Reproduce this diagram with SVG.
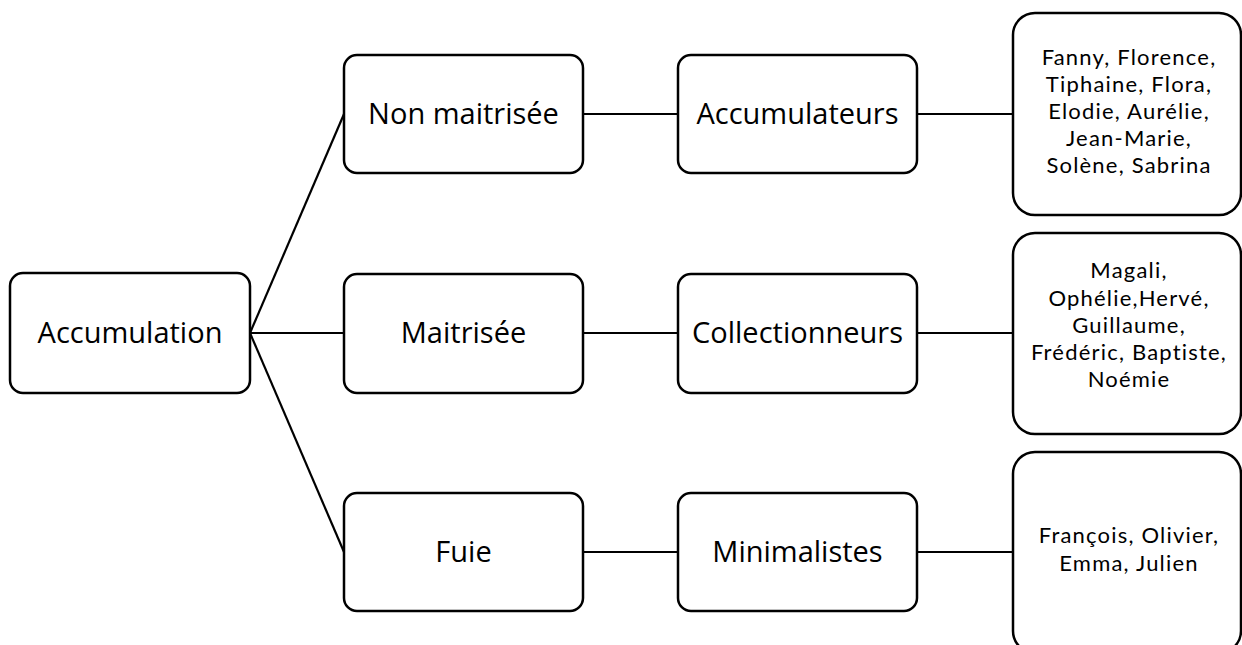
<svg xmlns="http://www.w3.org/2000/svg" width="1242" height="645" viewBox="0 0 1242 645">
  <style>
    .box { fill: #ffffff; stroke: #000000; stroke-width: 2.5; }
    .link { fill: none; stroke: #000000; stroke-width: 2.2; }
    .lbl { font-family: "Open Sans", "Noto Sans", "Liberation Sans", sans-serif; font-size: 29px; fill: #000000; text-anchor: middle; }
    .names { font-family: Lato, "Open Sans", "Liberation Sans", sans-serif; font-size: 22px; letter-spacing: 1.2px; fill: #000000; text-anchor: middle; }
  </style>
  <rect width="1242" height="645" fill="#ffffff"/>

  <!-- connectors -->
  <g id="connectors">
    <line class="link" x1="250" y1="333" x2="344" y2="114"/>
    <line class="link" x1="250" y1="333" x2="344" y2="333"/>
    <line class="link" x1="250" y1="333" x2="344" y2="552"/>
    <line class="link" x1="583" y1="114" x2="678" y2="114"/>
    <line class="link" x1="583" y1="333" x2="678" y2="333"/>
    <line class="link" x1="583" y1="552" x2="678" y2="552"/>
    <line class="link" x1="917" y1="114" x2="1013" y2="114"/>
    <line class="link" x1="917" y1="333" x2="1013" y2="333"/>
    <line class="link" x1="917" y1="552" x2="1013" y2="552"/>
  </g>

  <!-- root -->
  <g id="accumulation">
    <rect class="box" x="10" y="273" width="240" height="120" rx="13"/>
    <text class="lbl" x="130" y="343">Accumulation</text>
  </g>

  <!-- level 1 -->
  <g id="non-maitrisee">
    <rect class="box" x="344" y="55" width="239" height="118" rx="13"/>
    <text class="lbl" x="463.5" y="124">Non maitrisée</text>
  </g>
  <g id="maitrisee">
    <rect class="box" x="344" y="274" width="239" height="119" rx="13"/>
    <text class="lbl" x="463.5" y="343">Maitrisée</text>
  </g>
  <g id="fuie">
    <rect class="box" x="344" y="493" width="239" height="118" rx="13"/>
    <text class="lbl" x="463.5" y="562">Fuie</text>
  </g>

  <!-- level 2 -->
  <g id="accumulateurs">
    <rect class="box" x="678" y="55" width="239" height="118" rx="13"/>
    <text class="lbl" x="797.5" y="124">Accumulateurs</text>
  </g>
  <g id="collectionneurs">
    <rect class="box" x="678" y="274" width="239" height="119" rx="13"/>
    <text class="lbl" x="797.5" y="343">Collectionneurs</text>
  </g>
  <g id="minimalistes">
    <rect class="box" x="678" y="493" width="239" height="118" rx="13"/>
    <text class="lbl" x="797.5" y="562">Minimalistes</text>
  </g>

  <!-- level 3: names -->
  <g id="names-accumulateurs">
    <rect class="box" x="1013" y="13" width="228" height="202" rx="22"/>
    <text class="names" x="1129" y="65">Fanny, Florence,</text>
    <text class="names" x="1129" y="92">Tiphaine, Flora,</text>
    <text class="names" x="1129" y="119">Elodie, Aurélie,</text>
    <text class="names" x="1129" y="146">Jean-Marie,</text>
    <text class="names" x="1129" y="173">Solène, Sabrina</text>
  </g>
  <g id="names-collectionneurs">
    <rect class="box" x="1013" y="233" width="228" height="201" rx="22"/>
    <text class="names" x="1129" y="278">Magali,</text>
    <text class="names" x="1129" y="306">Ophélie,Hervé,</text>
    <text class="names" x="1129" y="333">Guillaume,</text>
    <text class="names" x="1129" y="360">Frédéric, Baptiste,</text>
    <text class="names" x="1129" y="387">Noémie</text>
  </g>
  <g id="names-minimalistes">
    <rect class="box" x="1013" y="452" width="228" height="201" rx="22"/>
    <text class="names" x="1129" y="543">François, Olivier,</text>
    <text class="names" x="1129" y="571">Emma, Julien</text>
  </g>
</svg>
